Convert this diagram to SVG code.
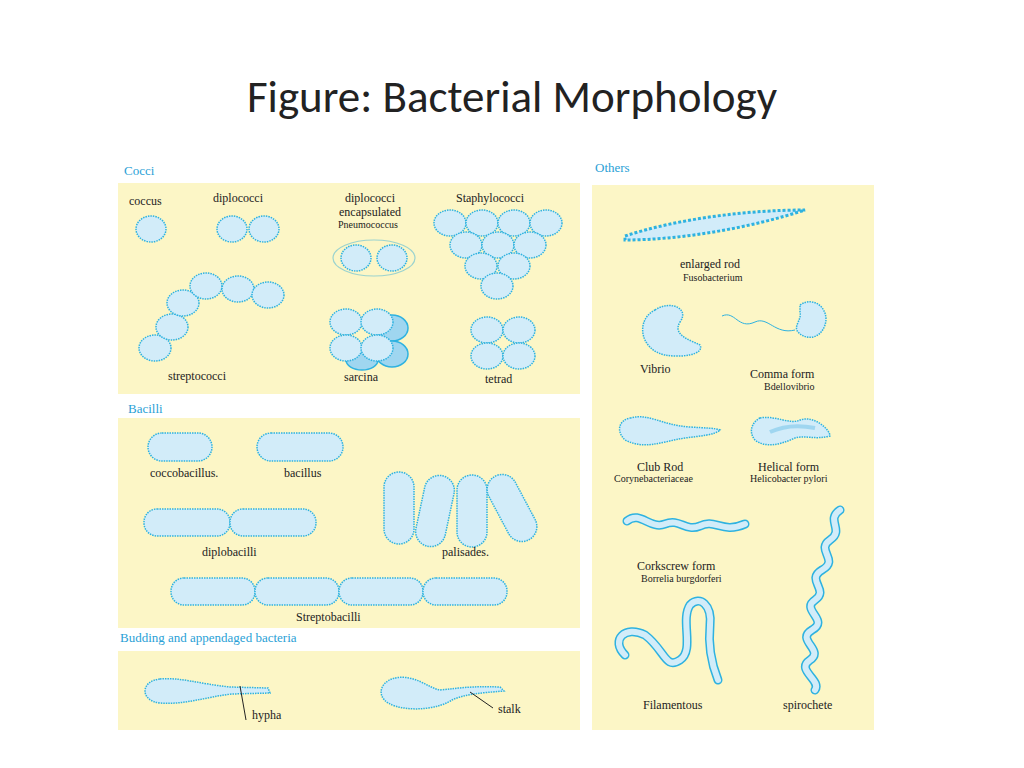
<svg xmlns="http://www.w3.org/2000/svg" width="1024" height="768" viewBox="0 0 1024 768">
<style>
.p{fill:#fcf6c6}
.c{fill:#d2ecf9;stroke:#2eb2e0;stroke-width:1.5;stroke-dasharray:1.5 1}
.d{fill:#9fd6f0;stroke:#2eb2e0;stroke-width:1.5}
.h{font-family:"Liberation Serif",serif;font-size:13px;fill:#2a9fd6}
.t{font-family:"Liberation Serif",serif;font-size:12px;fill:#222}
.s{font-family:"Liberation Serif",serif;font-size:10px;fill:#222}
.w{fill:none;stroke:#2eb2e0;stroke-width:9;stroke-linecap:round}
.wi{fill:none;stroke:#d2ecf9;stroke-width:6;stroke-linecap:round}
</style>
<rect width="1024" height="768" fill="#fff"/>
<text x="512" y="112" text-anchor="middle" font-family="Calibri,'Liberation Sans',sans-serif" font-size="45" fill="#222">Figure: Bacterial Morphology</text>
<rect class="p" x="118" y="183" width="462" height="211"/>
<rect class="p" x="118" y="418" width="462" height="210"/>
<rect class="p" x="118" y="651" width="462" height="79"/>
<rect class="p" x="592" y="185" width="282" height="545"/>
<text class="h" x="124" y="175">Cocci</text>
<text class="h" x="128" y="413">Bacilli</text>
<text class="h" x="120" y="642">Budding and appendaged bacteria</text>
<text class="h" x="595" y="172">Others</text>
<g id="cocci">
<text class="t" x="129" y="205">coccus</text>
<text class="t" x="213" y="202">diplococci</text>
<text class="t" x="370" y="202" text-anchor="middle">diplococci</text>
<text class="t" x="370" y="216" text-anchor="middle">encapsulated</text>
<text class="s" x="368" y="228" text-anchor="middle" font-size="8">Pneumococcus</text>
<text class="t" x="456" y="202">Staphylococci</text>
<ellipse class="c" cx="151" cy="229" rx="15" ry="13"/>
<ellipse class="c" cx="232" cy="229" rx="15" ry="13"/>
<ellipse class="c" cx="264" cy="229" rx="15" ry="13"/>
<ellipse cx="374" cy="258" rx="41" ry="18" fill="none" stroke="#9bd3cf" stroke-width="1.2"/>
<ellipse class="c" cx="356" cy="258" rx="15" ry="13"/>
<ellipse class="c" cx="392" cy="258" rx="15" ry="13"/>
<g>
<ellipse class="c" cx="450" cy="223" rx="16" ry="13"/><ellipse class="c" cx="482" cy="223" rx="16" ry="13"/><ellipse class="c" cx="514" cy="223" rx="16" ry="13"/><ellipse class="c" cx="546" cy="223" rx="16" ry="13"/>
<ellipse class="c" cx="466" cy="245" rx="16" ry="13"/><ellipse class="c" cx="498" cy="245" rx="16" ry="13"/><ellipse class="c" cx="530" cy="245" rx="16" ry="13"/>
<ellipse class="c" cx="481" cy="266" rx="16" ry="13"/><ellipse class="c" cx="514" cy="266" rx="16" ry="13"/>
<ellipse class="c" cx="497" cy="286" rx="16" ry="13"/>
</g>
<ellipse class="c" cx="155" cy="348" rx="16" ry="13"/>
<ellipse class="c" cx="172" cy="327" rx="16" ry="13"/>
<ellipse class="c" cx="183" cy="303" rx="16" ry="13"/>
<ellipse class="c" cx="206" cy="286" rx="16" ry="13"/>
<ellipse class="c" cx="238" cy="289" rx="16" ry="13"/>
<ellipse class="c" cx="268" cy="295" rx="16" ry="13"/>
<text class="t" x="168" y="380">streptococci</text>
<ellipse class="d" cx="392" cy="328" rx="16" ry="13"/><ellipse class="d" cx="392" cy="354" rx="16" ry="13"/>
<ellipse class="d" cx="362" cy="360" rx="16" ry="10"/>
<ellipse class="c" cx="346" cy="322" rx="16" ry="13"/><ellipse class="c" cx="377" cy="322" rx="16" ry="13"/>
<ellipse class="c" cx="346" cy="348" rx="16" ry="13"/><ellipse class="c" cx="377" cy="348" rx="16" ry="13"/>
<text class="t" x="344" y="381">sarcina</text>
<ellipse class="c" cx="487" cy="330" rx="16" ry="13"/><ellipse class="c" cx="519" cy="330" rx="16" ry="13"/>
<ellipse class="c" cx="487" cy="356" rx="16" ry="13"/><ellipse class="c" cx="519" cy="356" rx="16" ry="13"/>
<text class="t" x="485" y="383">tetrad</text>
</g>
<g id="bacilli">
<rect class="c" x="148" y="433" width="64" height="28" rx="14" stroke-dasharray="2 1.5" stroke-width="2"/>
<text class="t" x="150" y="477">coccobacillus.</text>
<rect class="c" x="257" y="433" width="86" height="28" rx="14" stroke-dasharray="2 1.5" stroke-width="2"/>
<text class="t" x="284" y="477">bacillus</text>
<rect class="c" x="144" y="509" width="86" height="27" rx="13" stroke-dasharray="2 1.5" stroke-width="2"/>
<rect class="c" x="230" y="509" width="86" height="27" rx="13" stroke-dasharray="2 1.5" stroke-width="2"/>
<text class="t" x="202" y="556">diplobacilli</text>
<rect class="c" x="384" y="472" width="30" height="72" rx="15" stroke-dasharray="2 1.5" stroke-width="2"/>
<rect class="c" x="420" y="475" width="30" height="72" rx="15" transform="rotate(12 435 511)" stroke-dasharray="2 1.5" stroke-width="2"/>
<rect class="c" x="457" y="475" width="30" height="72" rx="15" stroke-dasharray="2 1.5" stroke-width="2"/>
<rect class="c" x="497" y="472" width="30" height="72" rx="15" transform="rotate(-28 512 508)" stroke-dasharray="2 1.5" stroke-width="2"/>
<text class="t" x="442" y="556">palisades.</text>
<rect class="c" x="171" y="578" width="84" height="27" rx="13" stroke-dasharray="2 1.5" stroke-width="2"/>
<rect class="c" x="255" y="578" width="84" height="27" rx="13" stroke-dasharray="2 1.5" stroke-width="2"/>
<rect class="c" x="339" y="578" width="84" height="27" rx="13" stroke-dasharray="2 1.5" stroke-width="2"/>
<rect class="c" x="423" y="578" width="84" height="27" rx="13" stroke-dasharray="2 1.5" stroke-width="2"/>
<text class="t" x="296" y="621">Streptobacilli</text>
</g>
<g id="budding">
<path class="c" stroke-dasharray="2 1.5" stroke-width="2" d="M160,679 C180,677 200,684 230,687 L268,688 L270,693 L232,694 C205,697 185,705 160,703 C140,701 140,681 160,679 Z"/>
<line x1="240" y1="686" x2="246" y2="720" stroke="#222" stroke-width="1"/>
<text class="t" x="252" y="719">hypha</text>
<path class="c" stroke-dasharray="none" d="M395,678 C415,674 428,688 440,690 C460,688 470,686 500,687 L504,691 C480,693 465,694 452,700 C440,708 415,712 395,706 C375,700 378,682 395,678 Z"/>
<line x1="470" y1="692" x2="493" y2="708" stroke="#222" stroke-width="1"/>
<text class="t" x="498" y="713">stalk</text>
</g>
<g id="others">
<path d="M625,236 C680,218 750,210 805,210 C750,228 680,240 625,240 Z" fill="#d2ecf9" stroke="#2eb2e0" stroke-width="3" stroke-dasharray="3 2"/>
<text class="t" x="680" y="268">enlarged rod</text>
<text class="s" x="683" y="281">Fusobacterium</text>
<path class="c" d="M655,310 C670,300 690,308 680,322 C672,335 690,340 700,345 C705,355 680,358 665,355 C640,350 635,320 655,310 Z"/>
<text class="t" x="640" y="373">Vibrio</text>
<path fill="none" stroke="#2eb2e0" stroke-width="1" d="M722,316 C735,310 738,330 755,322 C768,316 775,335 795,330"/>
<path class="c" d="M800,305 C815,295 830,310 825,325 C820,340 805,340 798,332 C793,326 802,320 800,312 Z"/>
<text class="t" x="750" y="378">Comma form</text>
<text class="s" x="764" y="390">Bdellovibrio</text>
<path class="c" d="M630,418 C650,413 660,425 690,427 C705,428 715,428 720,430 C715,435 700,436 685,438 C660,442 645,450 625,440 C615,430 620,420 630,418 Z"/>
<text class="t" x="637" y="471">Club Rod</text>
<text class="s" x="614" y="482">Corynebacteriaceae</text>
<path class="c" d="M760,418 C775,415 790,425 800,420 C815,415 830,430 830,436 C815,440 805,435 795,438 C780,445 765,448 755,440 C748,432 752,422 760,418 Z"/>
<path d="M770,432 C785,425 800,425 815,428" stroke="#9fd6f0" stroke-width="4" fill="none"/>
<text class="t" x="758" y="471">Helical form</text>
<text class="s" x="750" y="482">Helicobacter pylori</text>
<path class="w" d="M627,521 C640,510 650,530 665,524 C680,518 685,532 700,526 C715,518 722,534 745,524"/>
<path class="wi" d="M627,521 C640,510 650,530 665,524 C680,518 685,532 700,526 C715,518 722,534 745,524"/>
<text class="t" x="637" y="570">Corkscrew form</text>
<text class="s" x="641" y="582">Borrelia burgdorferi</text>
<path class="w" stroke-width="8" d="M625,655 C610,640 625,625 645,635 C665,650 665,670 680,660 C695,650 680,620 690,605 C700,595 712,605 710,625 C708,645 712,665 718,680"/>
<path class="wi" stroke-width="5" d="M625,655 C610,640 625,625 645,635 C665,650 665,670 680,660 C695,650 680,620 690,605 C700,595 712,605 710,625 C708,645 712,665 718,680"/>
<text class="t" x="643" y="709">Filamentous</text>
<path class="w" stroke-width="7" d="M840,510 C825,520 845,530 830,540 C815,550 840,560 822,570 C805,580 830,590 815,600 C800,610 830,620 812,630 C795,640 825,650 810,660 C795,670 822,680 815,690"/>
<path class="wi" stroke-width="4" d="M840,510 C825,520 845,530 830,540 C815,550 840,560 822,570 C805,580 830,590 815,600 C800,610 830,620 812,630 C795,640 825,650 810,660 C795,670 822,680 815,690"/>
<text class="t" x="783" y="709">spirochete</text>
</g>
<g id="connectors"></g>
</svg>
